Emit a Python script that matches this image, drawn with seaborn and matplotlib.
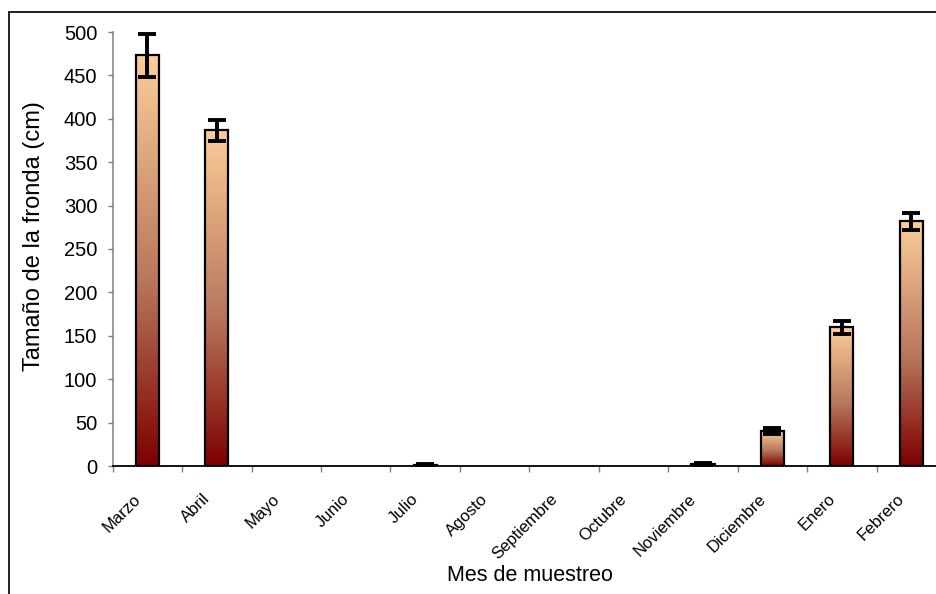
import numpy as np
import pandas as pd
import matplotlib
matplotlib.use("Agg")
import matplotlib.pyplot as plt
import matplotlib.transforms as mtransforms
from matplotlib.colors import LinearSegmentedColormap
from matplotlib.patches import Rectangle
import seaborn as sns

# Monthly mean frond size with its error
meses = ["Marzo", "Abril", "Mayo", "Junio", "Julio", "Agosto", "Septiembre",
         "Octubre", "Noviembre", "Diciembre", "Enero", "Febrero"]
tamano = [473, 387, 0, 0, 1.5, 0, 0, 0, 2, 40, 160, 282]
error = [25, 12, 0, 0, 1, 0, 0, 0, 1.5, 3.5, 7.5, 10]
yticks = [0, 50, 100, 150, 200, 250, 300, 350, 400, 450, 500]

sns.set_theme(style="white")
plt.rcParams["font.family"] = ["Liberation Sans", "DejaVu Sans"]
plt.rcParams["text.color"] = "black"
plt.rcParams["axes.labelcolor"] = "black"
plt.rcParams["xtick.color"] = "black"
plt.rcParams["ytick.color"] = "black"

W, H, DPI = 936, 594, 100
fig = plt.figure(figsize=(W / DPI, H / DPI), dpi=DPI)
fig.patch.set_facecolor("white")

# chart frame (runs off the right and bottom edges)
fig.add_artist(Rectangle((8.5 / W, -0.1), 1.2, (H - 11.5) / H + 0.1,
                         transform=fig.transFigure, fill=False,
                         edgecolor="#202020", linewidth=1.4))

left, right = 112.7 / W, 946 / W
bottom, top = (H - 466) / H, (H - 32) / H
ax = fig.add_axes([left, bottom, right - left, top - bottom])
ax.set_facecolor("none")

df = pd.DataFrame({"mes": meses, "tam": tamano})
sns.barplot(data=df, x="mes", y="tam", order=meses, width=0.335,
            color="white", edgecolor="black", linewidth=1.6,
            errorbar=None, ax=ax, zorder=3)

# vertical gradient in each bar: light peach at top, dark red at base
cmap = LinearSegmentedColormap.from_list(
    "fronda", [(0.0, "#7d0000"), (0.45, "#b8775c"), (1.0, "#fccd99")])
grad = np.linspace(0, 1, 256).reshape(-1, 1)
for p in list(ax.patches):
    x0, y0 = p.get_x(), p.get_y()
    w, h = p.get_width(), p.get_height()
    if h <= 0:
        p.set_visible(False)
        continue
    im = ax.imshow(grad, cmap=cmap, origin="lower", aspect="auto",
                   extent=[x0, x0 + w, y0, y0 + h], zorder=2,
                   interpolation="bilinear")
    im.set_clip_path(p)
    p.set_facecolor("none")

# error bars only where a sampled value exists
pos = np.arange(len(meses))
has = np.array(error) > 0
ax.errorbar(pos[has], np.array(tamano)[has], yerr=np.array(error)[has],
            fmt="none", ecolor="black", elinewidth=2.8, capsize=6.3,
            capthick=2.8, zorder=4)

ax.set_xlim(-0.5, len(meses) - 0.5)
ax.set_ylim(0, 500)
ax.set_yticks(yticks)
ax.set_yticklabels([str(v) for v in yticks], fontsize=14.5)

ax.set_xticks(pos)
ax.set_xticklabels(meses, fontsize=12, rotation=45, ha="right",
                   va="center", rotation_mode="anchor")
ax.set_xticks(pos - 0.5, minor=True)
ax.tick_params(axis="x", which="major", length=0, pad=22)
ax.tick_params(axis="x", which="minor", length=4.5, width=1,
               color="#808080", direction="out", bottom=True)
ax.tick_params(axis="y", length=3.6, width=1, color="#808080",
               direction="out", left=True, pad=7.5)

shift = mtransforms.ScaledTranslation(-9 / DPI, 0, fig.dpi_scale_trans)
for lab in ax.get_xticklabels():
    lab.set_transform(lab.get_transform() + shift)

for s in ["top", "right"]:
    ax.spines[s].set_visible(False)
ax.spines["left"].set_color("#808080")
ax.spines["left"].set_linewidth(1.1)
ax.spines["bottom"].set_color("black")
ax.spines["bottom"].set_linewidth(1.3)

ax.set_xlabel("Mes de muestreo", fontsize=15.5)
ax.set_ylabel("Tamaño de la fronda (cm)", fontsize=17)
ax.xaxis.set_label_coords((530 - 112.7) / (946 - 112.7), -(565 - 466) / 434)
ax.yaxis.set_label_coords((45 - 112.7) / (946 - 112.7), (466 - 236) / 434)

fig.savefig("out.png", dpi=DPI)
